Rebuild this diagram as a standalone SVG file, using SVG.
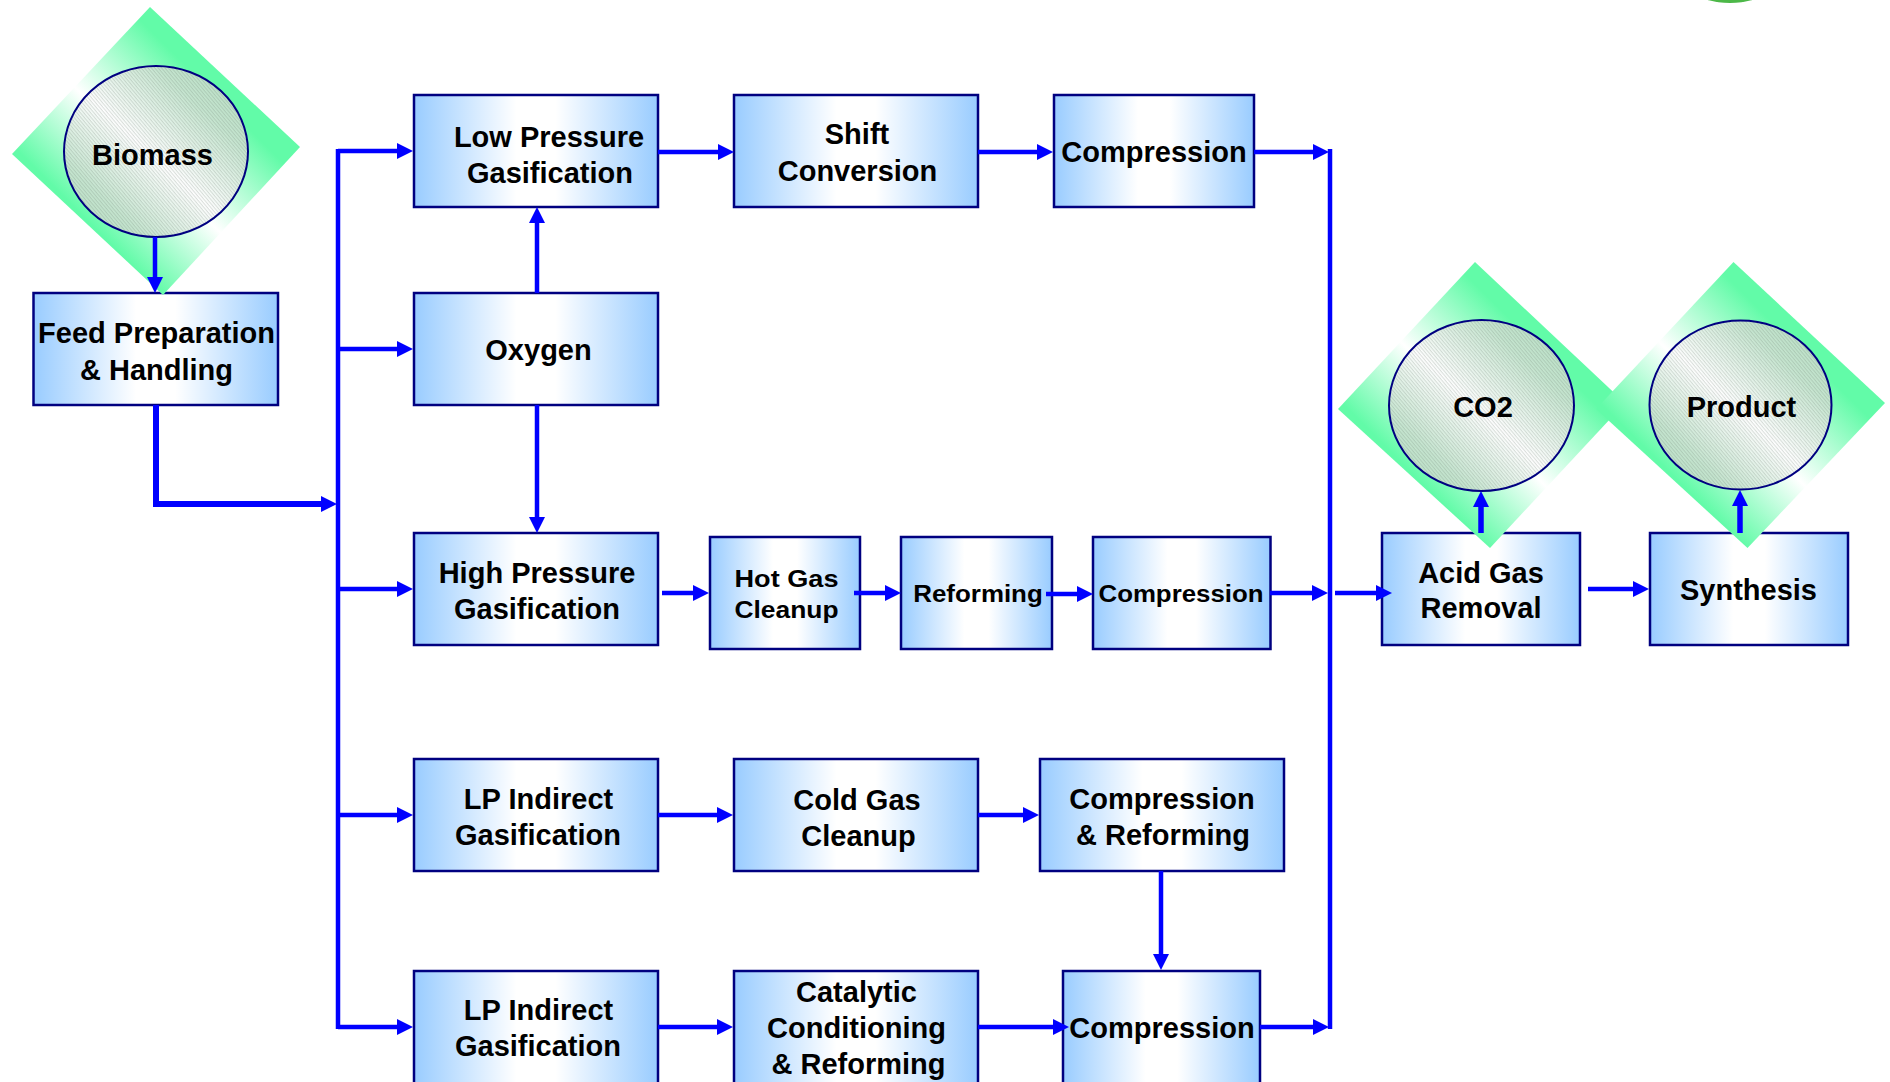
<svg xmlns="http://www.w3.org/2000/svg" width="1890" height="1082" viewBox="0 0 1890 1082">
<defs>
<style>
.box{fill:url(#boxGrad);stroke:#000080;stroke-width:2.5}
.lbl{font-family:"Liberation Sans",Arial,Helvetica,sans-serif;font-weight:bold;font-size:29px;fill:#000;text-anchor:middle}
.diam{fill:url(#diaGrad)}
.circ{fill:url(#circGrad)}
.hatch{fill:url(#hatch)}
.ring{fill:none;stroke:#000080;stroke-width:2}
.conn{fill:none;stroke:#0000FF;stroke-width:4.5}
.arr{marker-end:url(#ah)}
.thick{stroke-width:6}
</style>
<linearGradient id="boxGrad" x1="0" y1="0" x2="1" y2="0">
<stop offset="0" stop-color="#99CCFF"/>
<stop offset="0.42" stop-color="#FFFFFF"/>
<stop offset="0.58" stop-color="#FFFFFF"/>
<stop offset="1" stop-color="#99CCFF"/>
</linearGradient>
<linearGradient id="diaGrad" x1="1" y1="0" x2="0" y2="1">
<stop offset="0" stop-color="#62FBA8"/>
<stop offset="0.3" stop-color="#62FBA8"/>
<stop offset="0.53" stop-color="#FFFFFF"/>
<stop offset="0.74" stop-color="#62FBA8"/>
<stop offset="1" stop-color="#62FBA8"/>
</linearGradient>
<linearGradient id="circGrad" x1="1" y1="0" x2="0" y2="1">
<stop offset="0" stop-color="#B5DFC2"/>
<stop offset="0.25" stop-color="#C6E6D0"/>
<stop offset="0.52" stop-color="#FFFFFF"/>
<stop offset="0.78" stop-color="#C6E6D0"/>
<stop offset="1" stop-color="#B5DFC2"/>
</linearGradient>
<pattern id="hatch" width="6" height="2.6" patternUnits="userSpaceOnUse" patternTransform="rotate(50)">
<line x1="0" y1="0.6" x2="6" y2="0.6" stroke="#6A7A70" stroke-width="0.7" stroke-opacity="0.4"/>
</pattern>
<marker id="ah" markerUnits="userSpaceOnUse" markerWidth="16" markerHeight="16" viewBox="0 0 16 16" refX="10" refY="8" orient="auto">
<path d="M0,0 L16,8 L0,16 Z" fill="#0000FF"/>
</marker>
</defs>
<rect width="1890" height="1082" fill="#FFFFFF"/>
<ellipse cx="1730" cy="-6" rx="30" ry="9" fill="#4CB848"/>

<g id="node-feed"><rect class="box" x="33.5" y="293" width="244.5" height="112"/><text class="lbl" x="156.5" y="343">Feed Preparation</text><text class="lbl" x="156.5" y="380">&amp; Handling</text></g>
<g id="node-lowpressure"><rect class="box" x="414" y="95" width="244" height="112"/><text class="lbl" x="549" y="146.5">Low Pressure</text><text class="lbl" x="550" y="182.5">Gasification</text></g>
<g id="node-oxygen"><rect class="box" x="414" y="293" width="244" height="112"/><text class="lbl" x="538.5" y="360">Oxygen</text></g>
<g id="node-highpressure"><rect class="box" x="414" y="533" width="244" height="112"/><text class="lbl" x="537" y="582.5">High Pressure</text><text class="lbl" x="537" y="619">Gasification</text></g>
<g id="node-shift"><rect class="box" x="734" y="95" width="244" height="112"/><text class="lbl" x="857" y="144">Shift</text><text class="lbl" x="857.5" y="180.5">Conversion</text></g>
<g id="node-compression-top"><rect class="box" x="1054" y="95" width="200" height="112"/><text class="lbl" x="1154" y="161.5">Compression</text></g>
<g id="node-hotgas"><rect class="box" x="710" y="537" width="150" height="112"/><text class="lbl" x="786.5" y="587" style="font-size:24px" textLength="104" lengthAdjust="spacingAndGlyphs">Hot Gas</text><text class="lbl" x="786.5" y="618" style="font-size:24px" textLength="104" lengthAdjust="spacingAndGlyphs">Cleanup</text></g>
<g id="node-reforming"><rect class="box" x="901" y="537" width="151" height="112"/><text class="lbl" x="978" y="602" style="font-size:23px" textLength="129.5" lengthAdjust="spacingAndGlyphs">Reforming</text></g>
<g id="node-compression-mid"><rect class="box" x="1093" y="537" width="177.5" height="112"/><text class="lbl" x="1181" y="602" style="font-size:23px" textLength="165" lengthAdjust="spacingAndGlyphs">Compression</text></g>
<g id="node-acidgas"><rect class="box" x="1382" y="533" width="198" height="112"/><text class="lbl" x="1481" y="582.5">Acid Gas</text><text class="lbl" x="1481" y="618">Removal</text></g>
<g id="node-synthesis"><rect class="box" x="1650" y="533" width="198" height="112"/><text class="lbl" x="1748.5" y="600">Synthesis</text></g>
<g id="node-lpindirect1"><rect class="box" x="414" y="759" width="244" height="112"/><text class="lbl" x="538.5" y="808.5">LP Indirect</text><text class="lbl" x="538" y="844.5">Gasification</text></g>
<g id="node-coldgas"><rect class="box" x="734" y="759" width="244" height="112"/><text class="lbl" x="857" y="809.5">Cold Gas</text><text class="lbl" x="858.5" y="845.5">Cleanup</text></g>
<g id="node-compref"><rect class="box" x="1040" y="759" width="244" height="112"/><text class="lbl" x="1162" y="808.5">Compression</text><text class="lbl" x="1163" y="844.5">&amp; Reforming</text></g>
<g id="node-lpindirect2"><rect class="box" x="414" y="971" width="244" height="130"/><text class="lbl" x="538.5" y="1020">LP Indirect</text><text class="lbl" x="538" y="1056">Gasification</text></g>
<g id="node-catalytic"><rect class="box" x="734" y="971" width="244" height="130"/><text class="lbl" x="856.5" y="1001.5">Catalytic</text><text class="lbl" x="856.5" y="1037.5">Conditioning</text><text class="lbl" x="858.5" y="1073.5">&amp; Reforming</text></g>
<g id="node-compression-bot"><rect class="box" x="1063" y="971" width="197" height="130"/><text class="lbl" x="1162" y="1037.5">Compression</text></g>

<g id="node-biomass"><polygon class="diam" points="150,7 300,147 163,295 12,154"/><ellipse class="circ" cx="156" cy="151.5" rx="92" ry="85.5"/><ellipse class="hatch" cx="156" cy="151.5" rx="92" ry="85.5"/><ellipse class="ring" cx="156" cy="151.5" rx="92" ry="85.5"/><text class="lbl" x="152.5" y="165">Biomass</text></g>
<g id="node-co2"><polygon class="diam" points="1475,262 1625,403 1490,548 1338,409"/><ellipse class="circ" cx="1481.5" cy="405.5" rx="92.5" ry="85.5"/><ellipse class="hatch" cx="1481.5" cy="405.5" rx="92.5" ry="85.5"/><ellipse class="ring" cx="1481.5" cy="405.5" rx="92.5" ry="85.5"/><text class="lbl" x="1483" y="416.5">CO2</text></g>
<g id="node-product"><polygon class="diam" points="1733.5,262 1885,403 1747.5,548 1596,409"/><ellipse class="circ" cx="1740.5" cy="405" rx="91" ry="84.5"/><ellipse class="hatch" cx="1740.5" cy="405" rx="91" ry="84.5"/><ellipse class="ring" cx="1740.5" cy="405" rx="91" ry="84.5"/><text class="lbl" x="1741.5" y="416.5">Product</text></g>

<g id="connectors">
<path class="conn arr" d="M155,237 V287"/>
<path class="conn arr thick" d="M156,405 V504 H331"/>
<path class="conn" d="M338,149 V1029"/>
<path class="conn arr" d="M338,151 H407"/>
<path class="conn arr" d="M338,349 H407"/>
<path class="conn arr" d="M338,589 H407"/>
<path class="conn arr" d="M338,815 H407"/>
<path class="conn arr" d="M338,1027 H407"/>
<path class="conn arr" d="M537,293 V213"/>
<path class="conn arr" d="M537,405 V527"/>
<path class="conn arr" d="M658,152 H728"/>
<path class="conn arr" d="M978,152 H1047"/>
<path class="conn arr" d="M1254,152 H1323"/>
<path class="conn" d="M1330,149 V1029"/>
<path class="conn arr" d="M662,593 H703"/>
<path class="conn arr" d="M854,593 H895"/>
<path class="conn arr" d="M1046,594 H1087"/>
<path class="conn arr" d="M1270,593 H1322"/>
<path class="conn arr" d="M1335,593 H1386"/>
<path class="conn arr" d="M1588,589 H1643"/>
<path class="conn arr" style="stroke-width:5.5" d="M1481,533 V497"/>
<path class="conn arr" style="stroke-width:5.5" d="M1740,533 V496"/>
<path class="conn arr" d="M658,815 H727"/>
<path class="conn arr" d="M978,815 H1033"/>
<path class="conn arr" d="M1161,871 V964"/>
<path class="conn arr" d="M658,1027 H727"/>
<path class="conn arr" d="M978,1027 H1063"/>
<path class="conn arr" d="M1260,1027 H1323"/>
</g>
</svg>
